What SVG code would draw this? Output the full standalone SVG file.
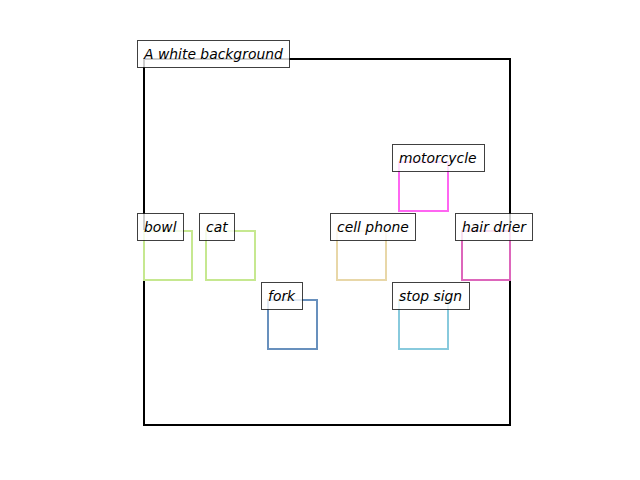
<svg xmlns="http://www.w3.org/2000/svg" width="640" height="480" viewBox="0 0 640 480">
<style>
.b{fill:none;stroke-width:2}
.l{fill:#ffffff;fill-opacity:0.8;stroke:#000;stroke-opacity:0.75;stroke-width:1}
text{font-family:"DejaVu Sans",sans-serif;font-style:italic;font-size:13.9px;fill:#000}
</style>
<rect width="640" height="480" fill="#fff"/>
<g id="frame"><rect x="144" y="59" width="366" height="366" fill="none" stroke="#000" stroke-width="2"/></g>
<g id="bowl"><rect class="b" x="144" y="231" width="48" height="49" stroke="#c6e890"/><rect class="l" x="137.5" y="213.5" width="46" height="27"/><text x="144" y="232">bowl</text></g>
<g id="cat"><rect class="b" x="206" y="231" width="49" height="49" stroke="#c6e890"/><rect class="l" x="199.5" y="213.5" width="35" height="27"/><text x="206" y="232">cat</text></g>
<g id="motorcycle"><rect class="b" x="399" y="162" width="49" height="49" stroke="#ff66f2"/><rect class="l" x="392.5" y="144.5" width="92" height="27"/><text x="399" y="163">motorcycle</text></g>
<g id="cell_phone"><rect class="b" x="337" y="231" width="49" height="49" stroke="#e8d7a8"/><rect class="l" x="330.5" y="213.5" width="85" height="27"/><text x="337" y="232">cell phone</text></g>
<g id="hair_drier"><rect class="b" x="462" y="231" width="48" height="49" stroke="#dd66bb"/><rect class="l" x="455.5" y="213.5" width="77" height="27"/><text x="462" y="232">hair drier</text></g>
<g id="fork"><rect class="b" x="268" y="300" width="49" height="49" stroke="#6890bd"/><rect class="l" x="261.5" y="282.5" width="41" height="27"/><text x="268" y="301">fork</text></g>
<g id="stop_sign"><rect class="b" x="399" y="300" width="49" height="49" stroke="#88cadd"/><rect class="l" x="392.5" y="282.5" width="77" height="27"/><text x="399" y="301">stop sign</text></g>
<g id="title"><rect class="l" x="137.5" y="40.5" width="152" height="27"/><text x="144" y="59">A white background</text></g>
<g id="connectors"></g>
</svg>
